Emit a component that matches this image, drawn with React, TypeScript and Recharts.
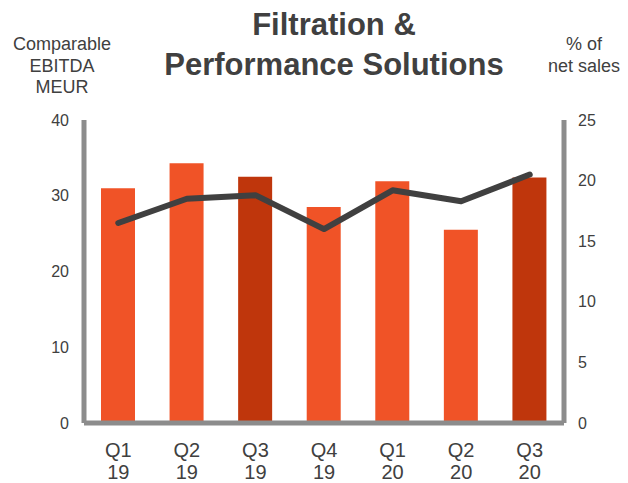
import { Bar, Cell, ComposedChart, Line, XAxis, YAxis } from "recharts";

const quarters = ["Q1", "Q2", "Q3", "Q4", "Q1", "Q2", "Q3"];
const years = ["19", "19", "19", "19", "20", "20", "20"];
const ebitda = [31.0, 34.3, 32.5, 28.5, 31.9, 25.5, 32.4];
const marginPct = [16.5, 18.5, 18.8, 16.0, 19.2, 18.3, 20.5];
const leftTicks = [0, 10, 20, 30, 40];
const rightTicks = [0, 5, 10, 15, 20, 25];

const font = '"Liberation Sans", Arial, sans-serif';
const textColor = "#404040";
const axisGray = "#8c8c8c";
const barColor = "#f05327";
const currentQuarterColor = "#bf360c";

const data = quarters.map((q, i) => ({
  label: `${q} ${years[i]}`,
  quarter: q,
  year: years[i],
  ebitda: ebitda[i],
  pct: marginPct[i],
}));

function QuarterTick(props: any) {
  const { x, y, index } = props;
  return (
    <text x={x} y={y} textAnchor="middle" fill={textColor} fontSize={20} fontFamily={font}>
      <tspan x={x} dy={26}>{quarters[index]}</tspan>
      <tspan x={x} dy={22}>{years[index]}</tspan>
    </text>
  );
}

export default function App() {
  const tickStyle = { fill: textColor, fontSize: 16, fontFamily: font };
  return (
    <div style={{ position: "absolute", left: 0, top: 0, width: 628, height: 483, fontFamily: font, color: textColor }}>
      <div
        style={{
          position: "absolute",
          left: 134,
          width: 400,
          top: 5,
          textAlign: "center",
          fontSize: 31,
          fontWeight: "bold",
          lineHeight: "40px",
        }}
      >
        Filtration &amp;
        <br />
        Performance Solutions
      </div>
      <div
        style={{
          position: "absolute",
          left: 2,
          width: 120,
          top: 34,
          textAlign: "center",
          fontSize: 18,
          lineHeight: "21.5px",
        }}
      >
        Comparable
        <br />
        EBITDA
        <br />
        MEUR
      </div>
      <div
        style={{
          position: "absolute",
          left: 534,
          width: 100,
          top: 34,
          textAlign: "center",
          fontSize: 18,
          lineHeight: "21.5px",
        }}
      >
        % of
        <br />
        net sales
      </div>
      <ComposedChart
        width={628}
        height={483}
        data={data}
        margin={{ top: 120, right: 4, bottom: 5, left: 24 }}
      >
        <XAxis
          dataKey="label"
          axisLine={{ stroke: axisGray, strokeWidth: 5 }}
          tickLine={false}
          height={55}
          tick={<QuarterTick />}
          interval={0}
        />
        <YAxis
          yAxisId="left"
          domain={[0, 40]}
          ticks={leftTicks}
          width={60}
          axisLine={{ stroke: axisGray, strokeWidth: 5 }}
          tickLine={false}
          tickSize={6}
          tickMargin={9}
          tick={tickStyle}
        />
        <YAxis
          yAxisId="right"
          orientation="right"
          domain={[0, 25]}
          ticks={rightTicks}
          width={60}
          axisLine={{ stroke: axisGray, strokeWidth: 5 }}
          tickLine={false}
          tickSize={6}
          tickMargin={8}
          tick={tickStyle}
        />
        <Bar yAxisId="left" dataKey="ebitda" barSize={34} isAnimationActive={false}>
          {data.map((d) => (
            <Cell key={d.label + d.year} fill={d.quarter === "Q3" ? currentQuarterColor : barColor} />
          ))}
        </Bar>
        <Line
          yAxisId="right"
          dataKey="pct"
          type="linear"
          stroke={textColor}
          strokeWidth={6}
          strokeLinecap="round"
          strokeLinejoin="round"
          dot={false}
          isAnimationActive={false}
        />
      </ComposedChart>
    </div>
  );
}
